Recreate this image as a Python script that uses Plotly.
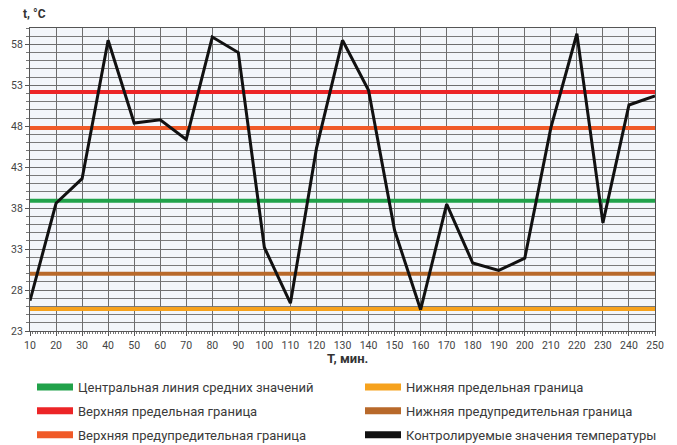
import plotly.graph_objects as go

minutes = [10, 20, 30, 40, 50, 60, 70, 80, 90, 100, 110, 120, 130, 140, 150,
           160, 170, 180, 190, 200, 210, 220, 230, 240, 250]
temperature = [26.7, 38.6, 41.6, 58.5, 48.4, 48.8, 46.4, 58.9, 57.0, 33.2,
               26.4, 45.3, 58.5, 52.4, 35.3, 25.6, 38.5, 31.3, 30.4, 31.9,
               47.8, 59.3, 36.2, 50.6, 51.7]

center_line = 38.9
upper_limit = 52.2
upper_warning = 47.8
lower_limit = 25.7
lower_warning = 30.0

y_ticks = [23, 28, 33, 38, 43, 48, 53, 58]

names = {
    "center": "Центральная линия средних значений",
    "ul": "Верхняя предельная граница",
    "uw": "Верхняя предупредительная граница",
    "ll": "Нижняя предельная граница",
    "lw": "Нижняя предупредительная граница",
    "data": "Контролируемые значения температуры",
}
colors = {
    "center": "#21a24a",
    "ul": "#ec2527",
    "uw": "#f05a28",
    "ll": "#f6a21d",
    "lw": "#b8692a",
    "data": "#111111",
}

fig = go.Figure()

levels = [("lw", lower_warning), ("ll", lower_limit), ("center", center_line),
          ("uw", upper_warning), ("ul", upper_limit)]
for key, val in levels:
    fig.add_trace(go.Scatter(
        x=[minutes[0], minutes[-1]], y=[val, val], mode="lines",
        line=dict(color=colors[key], width=4), showlegend=False,
        hoverinfo="skip"))

fig.add_trace(go.Scatter(
    x=minutes, y=temperature, mode="lines",
    line=dict(color=colors["data"], width=3), showlegend=False))

# legend entries
col1 = ["center", "ul", "uw"]
col2 = ["ll", "lw", "data"]
for lg, keys in (("legend", col1), ("legend2", col2)):
    for key in keys:
        fig.add_trace(go.Scatter(
            x=[None], y=[None], mode="lines", name=names[key],
            line=dict(color=colors[key], width=7),
            legend=lg, legendgroup=key, showlegend=True))

# page body has an 8px margin, so the figure is drawn 8px smaller and offset
OFF = 8
W, H = 677 - OFF, 445 - OFF
plot_l, plot_r, plot_t, plot_b = 30, 655, 28, 331  # target pixel positions
ml, mr = plot_l - OFF, W - (plot_r - OFF)
mt, mb = plot_t - OFF, H - (plot_b - OFF)
pw = W - ml - mr
ph = H - mt - mb

def px_x(px):
    return (px - OFF - ml) / pw

def px_y(py):
    return (H - mb - (py - OFF)) / ph

legend_common = dict(
    orientation="v", yanchor="top", xanchor="left",
    bgcolor="rgba(0,0,0,0)", itemwidth=36, tracegroupgap=4,
    traceorder="grouped",
    font=dict(family="Roboto, Open Sans, sans-serif", size=13, color="#3a3a3a"),
)

fig.update_layout(
    width=W, height=H,
    margin=dict(l=ml, r=mr, t=mt, b=mb, autoexpand=False),
    paper_bgcolor="#ffffff",
    plot_bgcolor="#f3f6fa",
    font=dict(family="Roboto, Open Sans, sans-serif", size=11, color="#3a3a3a"),
    legend=dict(x=px_x(32), y=px_y(372), **legend_common),
    legend2=dict(x=px_x(360), y=px_y(372), **legend_common),
    xaxis=dict(
        range=[minutes[0], minutes[-1]],
        tickmode="array", tickvals=minutes, ticktext=[str(m) for m in minutes],
        showgrid=True, gridcolor="#6e6e6e", gridwidth=1,
        ticks="outside", ticklen=4, tickcolor="#555",
        minor=dict(dtick=1, tick0=0, ticks="outside", ticklen=2, tickcolor="#777", showgrid=False),
        showline=True, linecolor="#555", linewidth=1, mirror=True,
        zeroline=False, tickfont=dict(size=10.5, color="#444"),
    ),
    yaxis=dict(
        range=[23, 60],
        tickmode="array", tickvals=y_ticks, ticktext=[str(v) for v in y_ticks],
        showgrid=True, gridcolor="#6e6e6e", gridwidth=1,
        ticks="outside", ticklen=4, tickcolor="#555",
        minor=dict(dtick=1, tick0=23, ticks="outside", ticklen=3, tickcolor="#777",
                   showgrid=True, gridcolor="#7a7a7a", gridwidth=1),
        showline=True, linecolor="#555", linewidth=1, mirror=True,
        zeroline=False, tickfont=dict(size=10.5, color="#444"),
    ),
    annotations=[
        dict(text="<b>t, °C</b>", x=px_x(34), y=px_y(14), xref="paper", yref="paper",
             showarrow=False, xanchor="center", yanchor="middle",
             font=dict(size=12, color="#333")),
        dict(text="<b>T, мин.</b>", x=px_x(347), y=px_y(358), xref="paper", yref="paper",
             showarrow=False, xanchor="center", yanchor="middle",
             font=dict(size=13, color="#333")),
    ],
)

fig.write_html("out.html")
